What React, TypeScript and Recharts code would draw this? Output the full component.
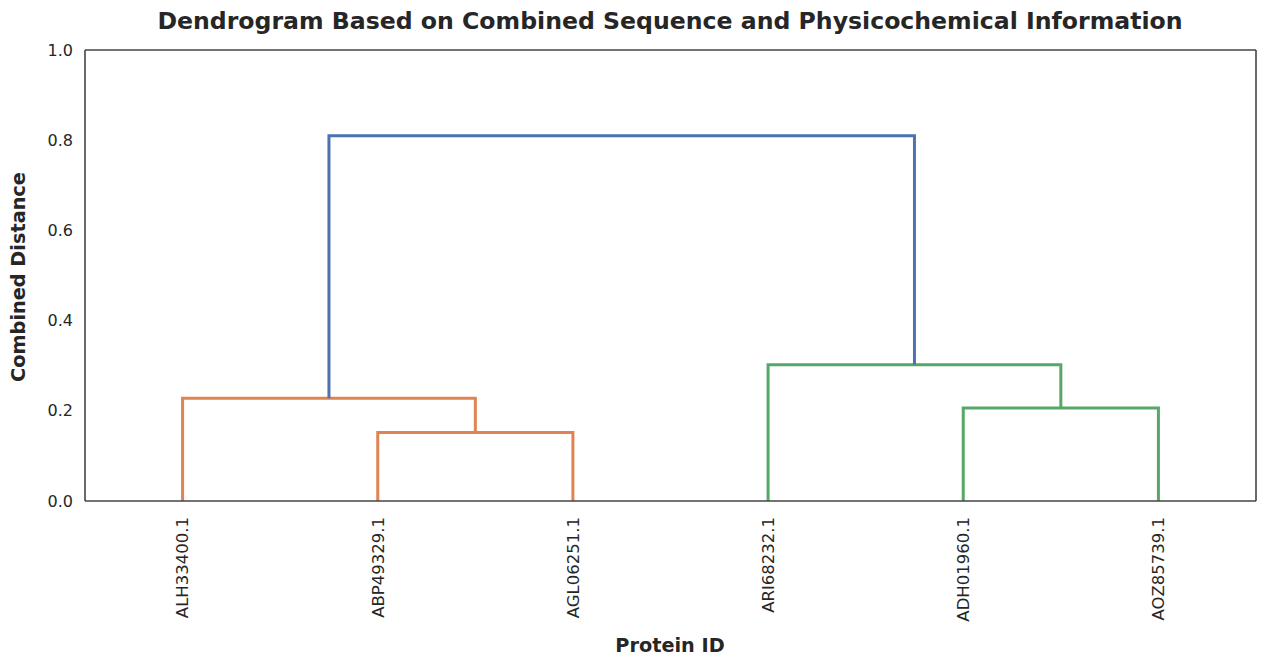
import {ComposedChart, Line, ReferenceLine, XAxis, YAxis} from 'recharts'

const LEAVES = ['ALH33400.1', 'ABP49329.1', 'AGL06251.1', 'ARI68232.1', 'ADH01960.1', 'AOZ85739.1']
const LEAF_POS = [5, 15, 25, 35, 45, 55]
const Y_TICKS = [0, 0.2, 0.4, 0.6, 0.8, 1.0]

// scipy-style link coordinates: x of the 4 corners and heights of the 4 corners
const ICOORD = [
  [15, 15, 25, 25],
  [5, 5, 20, 20],
  [45, 45, 55, 55],
  [35, 35, 50, 50],
  [12.5, 12.5, 42.5, 42.5],
]
const DCOORD = [
  [0, 0.152, 0.152, 0],
  [0, 0.228, 0.228, 0.152],
  [0, 0.206, 0.206, 0],
  [0, 0.302, 0.302, 0.206],
  [0.228, 0.81, 0.81, 0.302],
]
const LINK_COLORS = ['#DD8452', '#DD8452', '#55A868', '#55A868', '#4C72B0']

const FONT = '"DejaVu Sans", sans-serif'
const TEXT = '#262626'
const SPINE = '#444444'

const W = 1266
const H = 665

function LeafTick({ x, y, payload }: any) {
  const idx = LEAF_POS.indexOf(payload.value)
  const ty = y + 14
  return (
    <text
      x={x}
      y={ty}
      transform={`rotate(-90, ${x}, ${ty})`}
      textAnchor="end"
      dy="0.35em"
      fontSize={16.5}
      fontFamily={FONT}
      fill={TEXT}
    >
      {LEAVES[idx]}
    </text>
  )
}

export default function App() {
  const links = ICOORD.map((xs, i) => xs.map((x, j) => ({ x, y: DCOORD[i][j] })))
  return (
    <div style={{ position: 'absolute', left: 0, top: 0, width: W, height: H, background: '#fff', fontFamily: FONT }}>
      <div
        style={{
          position: 'absolute', left: 670, top: 21, transform: 'translate(-50%, -50%)',
          whiteSpace: 'nowrap', fontSize: 23.6, fontWeight: 'bold', color: TEXT,
        }}
      >
        Dendrogram Based on Combined Sequence and Physicochemical Information
      </div>
      <div
        style={{
          position: 'absolute', left: 18, top: 277, transform: 'translate(-50%, -50%) rotate(-90deg)',
          whiteSpace: 'nowrap', fontSize: 19.3, fontWeight: 'bold', color: TEXT,
        }}
      >
        Combined Distance
      </div>
      <div
        style={{
          position: 'absolute', left: 670, top: 645, transform: 'translate(-50%, -50%)',
          whiteSpace: 'nowrap', fontSize: 19.3, fontWeight: 'bold', color: TEXT,
        }}
      >
        Protein ID
      </div>
      <ComposedChart width={W} height={H} margin={{ top: 50, right: 10, bottom: 0, left: 0 }}>
        <XAxis
          type="number"
          dataKey="x"
          domain={[0, 60]}
          ticks={LEAF_POS}
          allowDataOverflow
          height={164}
          tickLine={false}
          tickSize={0}
          axisLine={{ stroke: SPINE, strokeWidth: 1.6 }}
          tick={<LeafTick />}
          interval={0}
        />
        <YAxis
          type="number"
          domain={[0, 1]}
          ticks={Y_TICKS}
          allowDataOverflow
          width={85}
          tickLine={false}
          tickSize={0}
          tickMargin={12}
          axisLine={{ stroke: SPINE, strokeWidth: 1.6 }}
          tickFormatter={(v: number) => v.toFixed(1)}
          tick={{ fontSize: 16, fill: TEXT, fontFamily: FONT }}
          interval={0}
        />
        <ReferenceLine y={1} stroke={SPINE} strokeWidth={1.6} />
        <ReferenceLine x={60} stroke={SPINE} strokeWidth={1.6} />
        {links.map((pts, i) => (
          <Line
            key={i}
            data={pts}
            dataKey="y"
            type="linear"
            stroke={LINK_COLORS[i]}
            strokeWidth={3}
            dot={false}
            activeDot={false}
            isAnimationActive={false}
          />
        ))}
      </ComposedChart>
    </div>
  )
}
